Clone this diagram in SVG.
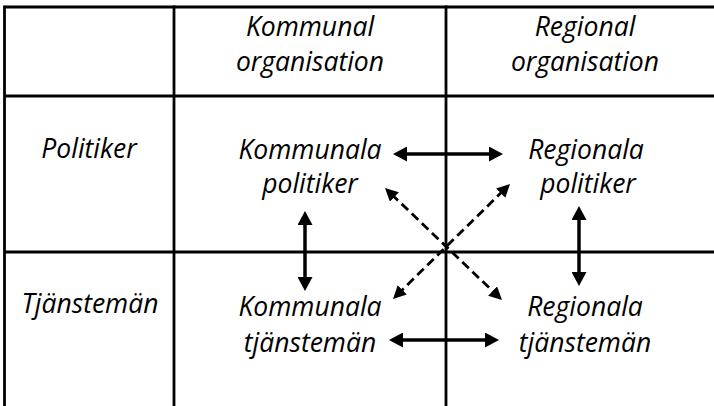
<svg xmlns="http://www.w3.org/2000/svg" width="714" height="406" viewBox="0 0 714 406">
<style>
.grid{stroke:#000;stroke-width:2.8;fill:none}
.t{font-family:"Open Sans","Noto Sans","Liberation Sans",sans-serif;font-style:italic;font-size:26.5px;fill:#000;text-anchor:middle;font-variant-ligatures:none}
.solid{stroke:#000;stroke-width:3.5;fill:none}
.dash{stroke:#000;stroke-width:2.8;fill:none;stroke-dasharray:9 5}
</style>
<defs>
<marker id="ah" markerUnits="userSpaceOnUse" markerWidth="14" markerHeight="15" refX="4" refY="7.5" orient="auto-start-reverse" viewBox="0 0 14 15">
<path d="M0,0 L14,7.5 L0,15 z" fill="#000"/>
</marker>
<marker id="ahd" markerUnits="userSpaceOnUse" markerWidth="13" markerHeight="13" refX="4" refY="6.5" orient="auto-start-reverse" viewBox="0 0 13 13">
<path d="M0,0 L13,6.5 L0,13 z" fill="#000"/>
</marker>
</defs>
<rect width="714" height="406" fill="#fff"/>
<g id="grid">
<line class="grid" x1="4.5" y1="7" x2="714" y2="7"/>
<line class="grid" x1="4.5" y1="96" x2="714" y2="96"/>
<line class="grid" x1="4.5" y1="252" x2="714" y2="252"/>
<line class="grid" x1="4.5" y1="5.6" x2="4.5" y2="406"/>
<line class="grid" x1="174" y1="5.6" x2="174" y2="406"/>
<line class="grid" x1="446" y1="5.6" x2="446" y2="406"/>
</g>
<g id="header-kommunal"><text class="t" x="310" y="36">Kommunal</text><text class="t" x="310" y="71">organisation</text></g>
<g id="header-regional"><text class="t" x="585" y="36">Regional</text><text class="t" x="585" y="71">organisation</text></g>
<g id="row-politiker"><text class="t" x="89" y="158">Politiker</text></g>
<g id="row-tjanstemän"><text class="t" x="90" y="313">Tjänstemän</text></g>
<g id="kommunala-politiker"><text class="t" x="310" y="159">Kommunala</text><text class="t" x="310" y="193">politiker</text></g>
<g id="regionala-politiker"><text class="t" x="586" y="159">Regionala</text><text class="t" x="588" y="193">politiker</text></g>
<g id="kommunala-tjanstemän"><text class="t" x="310" y="316">Kommunala</text><text class="t" x="310" y="352">tjänstemän</text></g>
<g id="regionala-tjanstemän"><text class="t" x="585" y="316">Regionala</text><text class="t" x="585" y="352">tjänstemän</text></g>
<g id="connectors">
<line class="solid" x1="403" y1="154" x2="493" y2="154" marker-start="url(#ah)" marker-end="url(#ah)"/>
<line class="solid" x1="399" y1="340" x2="489" y2="340" marker-start="url(#ah)" marker-end="url(#ah)"/>
<line class="solid" x1="305" y1="221" x2="305" y2="281" marker-start="url(#ah)" marker-end="url(#ah)"/>
<line class="solid" x1="579" y1="216" x2="579" y2="276" marker-start="url(#ah)" marker-end="url(#ah)"/>
<line class="dash" x1="391.5" y1="194.2" x2="495.5" y2="293.8" marker-start="url(#ahd)" marker-end="url(#ahd)"/>
<line class="dash" x1="503.6" y1="190.3" x2="399.4" y2="292.7" marker-start="url(#ahd)" marker-end="url(#ahd)"/>
</g>
</svg>
